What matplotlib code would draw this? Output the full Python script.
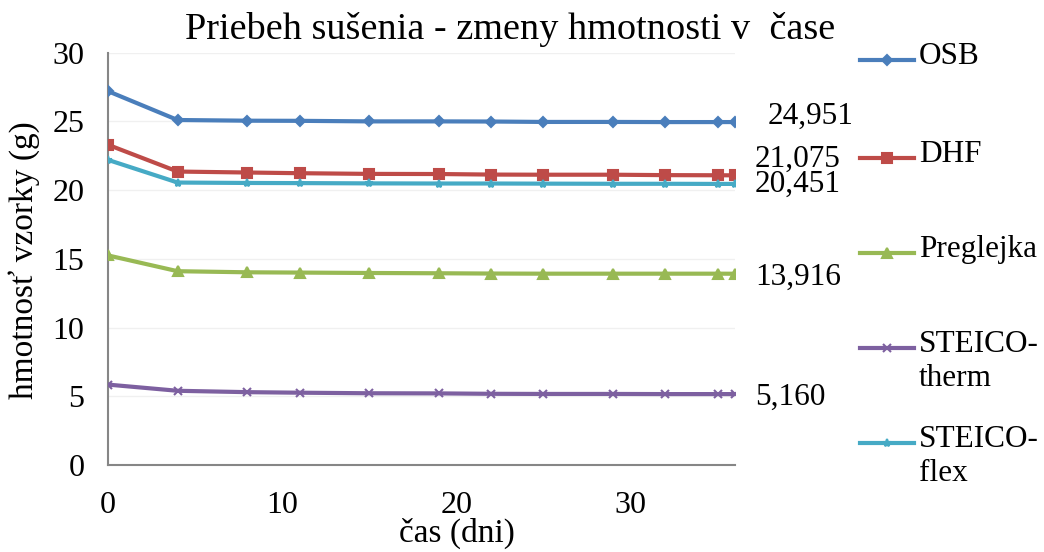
import matplotlib.pyplot as plt
from matplotlib.lines import Line2D

plt.rcParams['font.family'] = ['Liberation Serif', 'DejaVu Serif']

dni = [0, 4, 8, 11, 15, 19, 22, 25, 29, 32, 35, 36]

osb = [27.2, 25.1, 25.05, 25.04, 25.0, 25.0, 24.99, 24.96, 24.96, 24.95, 24.95, 24.951]
dhf = [23.3, 21.35, 21.28, 21.23, 21.18, 21.17, 21.13, 21.12, 21.12, 21.09, 21.08, 21.075]
preglejka = [15.25, 14.1, 14.02, 14.0, 13.97, 13.95, 13.93, 13.92, 13.92, 13.92, 13.92, 13.916]
therm = [5.85, 5.4, 5.3, 5.26, 5.22, 5.21, 5.18, 5.17, 5.17, 5.16, 5.16, 5.160]
flex = [22.2, 20.55, 20.52, 20.51, 20.49, 20.48, 20.48, 20.47, 20.46, 20.46, 20.45, 20.451]

nazvy = ['OSB', 'DHF', 'Preglejka', 'STEICO-\ntherm', 'STEICO-\nflex']
serie = [osb, dhf, preglejka, therm, flex]
farby = ['#4a7ebb', '#be4b48', '#98b954', '#7d60a0', '#46aac5']
znacky = ['D', 's', '^', 'x', '*']
velkosti = [5, 7, 7, 6, 6]
# posun popisov poslednej hodnoty (px)
posuny = [(33, 6), (20, 16), (20, -4), (20, -3), (20, 0)]

fig = plt.figure(figsize=(10.44, 5.52), dpi=100)
ax = fig.add_axes([0.1034, 0.1576, 0.6006, 0.747])

for y, c, m, ms in zip(serie, farby, znacky, velkosti):
    ax.plot(dni, y, color=c, lw=3, marker=m, ms=ms, mew=1.5, mec=c, zorder=3)

for y, (dx, dy) in zip(serie, posuny):
    ax.annotate(f'{y[-1]:.3f}'.replace('.', ','), (dni[-1], y[-1]),
                xytext=(dx, dy), textcoords='offset pixels',
                ha='left', va='center', fontsize=22.5, annotation_clip=False)

ax.set_xlim(0, 36)
ax.set_ylim(0, 30)
ax.set_xticks([0, 10, 20, 30])
ax.set_yticks(range(0, 31, 5))
ax.tick_params(length=0, labelsize=23, pad=17)
ax.tick_params(axis='x', pad=19)
ax.grid(axis='y', color='#f0f0f0', lw=1)
ax.set_axisbelow(True)
for s in ['top', 'right']:
    ax.spines[s].set_visible(False)
for s in ['left', 'bottom']:
    ax.spines[s].set_color('#868686')
    ax.spines[s].set_linewidth(1.5)

ax.set_xlabel('čas (dni)', fontsize=24)
ax.xaxis.set_label_coords(0.557, -0.128)
ax.set_ylabel('hmotnosť vzorky (g)', fontsize=24)
ax.yaxis.set_label_coords(-0.108, 0.497)
fig.text(0.489, 0.946, 'Priebeh sušenia - zmeny hmotnosti v  čase',
         ha='center', va='center', fontsize=27.5)

# legenda vpravo
leg_y = [60, 158, 253, 348, 443]
for nazov, c, m, ms, yp in zip(nazvy, farby, znacky, velkosti, leg_y):
    yf = 1 - yp / 552
    fig.add_artist(Line2D([860 / 1044, 914 / 1044], [yf, yf], color=c, lw=3))
    fig.add_artist(Line2D([887 / 1044], [yf], color=c, marker=m, ms=ms, mew=1.5, mec=c))
    fig.text(919 / 1044, yf + 0.032, nazov, ha='left', va='top', fontsize=22.5,
             linespacing=1.2)

fig.savefig('out.png', dpi=100)
